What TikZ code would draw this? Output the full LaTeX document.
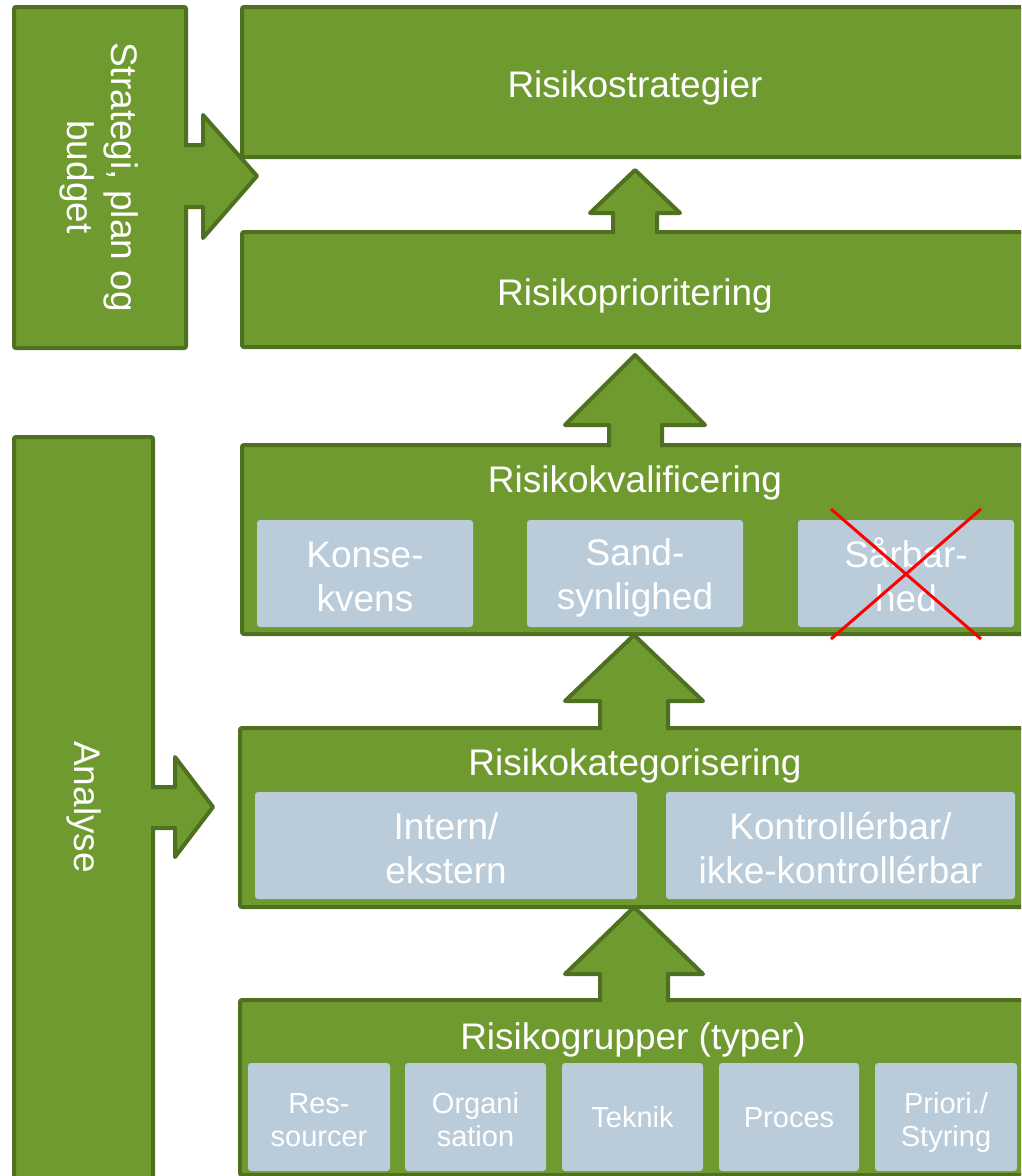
\documentclass[tikz,border=0pt]{standalone}
\usepackage{fontspec}
\setmainfont{Liberation Sans}
\definecolor{gfill}{HTML}{6F9A2F}
\definecolor{gline}{HTML}{4E7020}
\definecolor{subc}{HTML}{BACCDA}
\newcommand\LnR[1]{\rule[-9pt]{0pt}{35pt}#1}
\newcommand\LnB[1]{\rule[-4pt]{0pt}{40pt}#1}
\newcommand\LnSa[1]{\rule[-7pt]{0pt}{39pt}#1}
\newcommand\LnSb[1]{\rule[-7pt]{0pt}{33pt}#1}
\newcommand\LnO[1]{\rule[-4pt]{0pt}{29pt}#1}
\begin{document}
\begin{tikzpicture}[x=1pt,y=-1pt,
  box/.style={draw=gline,fill=gfill,line width=4pt,rounded corners=2pt,inner sep=0pt},
  subbox/.style={fill=subc,rounded corners=3pt,inner sep=0pt,text=white,align=center},
  bigtxt/.style={font=\fontsize{37}{44}\selectfont},
  smalltxt/.style={font=\fontsize{29}{33}\selectfont},
  ttl/.style={text=white,bigtxt,inner sep=0pt,anchor=base},
  rtxt/.style={text=white,bigtxt,inner sep=0pt,align=center,rotate=-90},
  arrline/.style={draw=gline,line width=4pt,line join=round},
  cross/.style={draw=red,line width=3pt}]
\useasboundingbox (0,0) rectangle (1021,1176);
\clip (0,0) rectangle (1021,1176);

% left boxes
\node[box,minimum width=172pt,minimum height=341pt] (strat) at (100,177.5) {};
\node[box,minimum width=139pt,minimum height=763pt] (an) at (83.5,818.5) {};

% main boxes
\node[box,minimum width=788pt,minimum height=150pt] (rs) at (636,82) {};
\node[box,minimum width=788pt,minimum height=115pt] (rp) at (636,289.5) {};
\node[box,minimum width=788pt,minimum height=189pt] (rk) at (636,539.5) {};
\node[box,minimum width=790pt,minimum height=179pt] (rc) at (635,817.5) {};
\node[box,minimum width=790pt,minimum height=175pt] (rg) at (635,1087.5) {};

% block arrows: left side
\fill[gfill] (183,145) -- (203,145) -- (203,115) -- (257,176) -- (203,238) -- (203,207) -- (183,207) -- cycle;
\draw[arrline] (184,145) -- (203,145) -- (203,115) -- (257,176) -- (203,238) -- (203,207) -- (184,207);
\fill[gfill] (150,787) -- (175,787) -- (175,757) -- (213,807) -- (175,857) -- (175,828) -- (150,828) -- cycle;
\draw[arrline] (151,787) -- (175,787) -- (175,757) -- (213,807) -- (175,857) -- (175,828) -- (151,828);

% block arrows: upward
\fill[gfill] (613,235) -- (613,213) -- (590,213) -- (635,170) -- (680,213) -- (657,213) -- (657,235) -- cycle;
\draw[arrline] (613,234) -- (613,213) -- (590,213) -- (635,170) -- (680,213) -- (657,213) -- (657,234);
\fill[gfill] (609,448) -- (609,425) -- (565,425) -- (635,355) -- (705,425) -- (662,425) -- (662,448) -- cycle;
\draw[arrline] (609,447) -- (609,425) -- (565,425) -- (635,355) -- (705,425) -- (662,425) -- (662,447);
\fill[gfill] (600,731) -- (600,701) -- (565,701) -- (634,635) -- (703,701) -- (668,701) -- (668,731) -- cycle;
\draw[arrline] (600,730) -- (600,701) -- (565,701) -- (634,635) -- (703,701) -- (668,701) -- (668,730);
\fill[gfill] (600,1003) -- (600,974) -- (565,974) -- (634,907) -- (703,974) -- (668,974) -- (668,1003) -- cycle;
\draw[arrline] (600,1002) -- (600,974) -- (565,974) -- (634,907) -- (703,974) -- (668,974) -- (668,1002);

% titles
\node[rtxt] (strat-t) at (98,177) {\LnR{Strategi, plan og}\\\LnR{budget}};
\node[rtxt] (an-t) at (83,807) {\LnR{Analyse}};
\node[ttl] (rs-t) at (635,97) {Risikostrategier};
\node[ttl] (rp-t) at (635,305) {Risikoprioritering};
\node[ttl] (rk-t) at (635,492) {Risikokvalificering};
\node[ttl] (rc-t) at (635,775) {Risikokategorisering};
\node[ttl] (rg-t) at (633,1049) {Risikogrupper (typer)};

% sub boxes in Risikokvalificering
\node[subbox,bigtxt,minimum width=216pt,minimum height=107pt] (k1) at (365,573.5) {\LnB{Konse-}\\\LnB{kvens}};
\node[subbox,bigtxt,minimum width=216pt,minimum height=107pt] (k2) at (635,573.5) {\LnB{Sand-}\\\LnB{synlighed}};
\node[subbox,bigtxt,minimum width=216pt,minimum height=107pt] (k3) at (906,573.5) {\LnB{Sårbar-}\\\LnB{hed}};
\coordinate (x1) at (831,509);
\coordinate (x2) at (981,639);
\coordinate (x3) at (981,509);
\coordinate (x4) at (831,639);
\draw[cross] (x1) -- (x2);
\draw[cross] (x3) -- (x4);

% sub boxes in Risikokategorisering
\node[subbox,bigtxt,minimum width=382pt,minimum height=107pt] (c1) at (446,845.5) {\LnB{Intern/}\\\LnB{ekstern}};
\node[subbox,bigtxt,minimum width=349pt,minimum height=107pt] (c2) at (840.5,845.5) {\LnB{Kontrollérbar/}\\\LnB{ikke-kontrollérbar}};

% sub boxes in Risikogrupper
\node[subbox,smalltxt,minimum width=142pt,minimum height=108pt] (g1) at (319,1117) {\LnSa{Res-}\\\LnSb{sourcer}};
\node[subbox,smalltxt,minimum width=141pt,minimum height=108pt] (g2) at (475.5,1117) {\LnSa{Organi}\\\LnSb{sation}};
\node[subbox,smalltxt,minimum width=141pt,minimum height=108pt] (g3) at (632.5,1117) {\LnO{Teknik}};
\node[subbox,smalltxt,minimum width=140pt,minimum height=108pt] (g4) at (789,1117) {\LnO{Proces}};
\node[subbox,smalltxt,minimum width=142pt,minimum height=108pt] (g5) at (946,1117) {\LnSa{Priori./}\\\LnSb{Styring}};
\end{tikzpicture}
\end{document}
